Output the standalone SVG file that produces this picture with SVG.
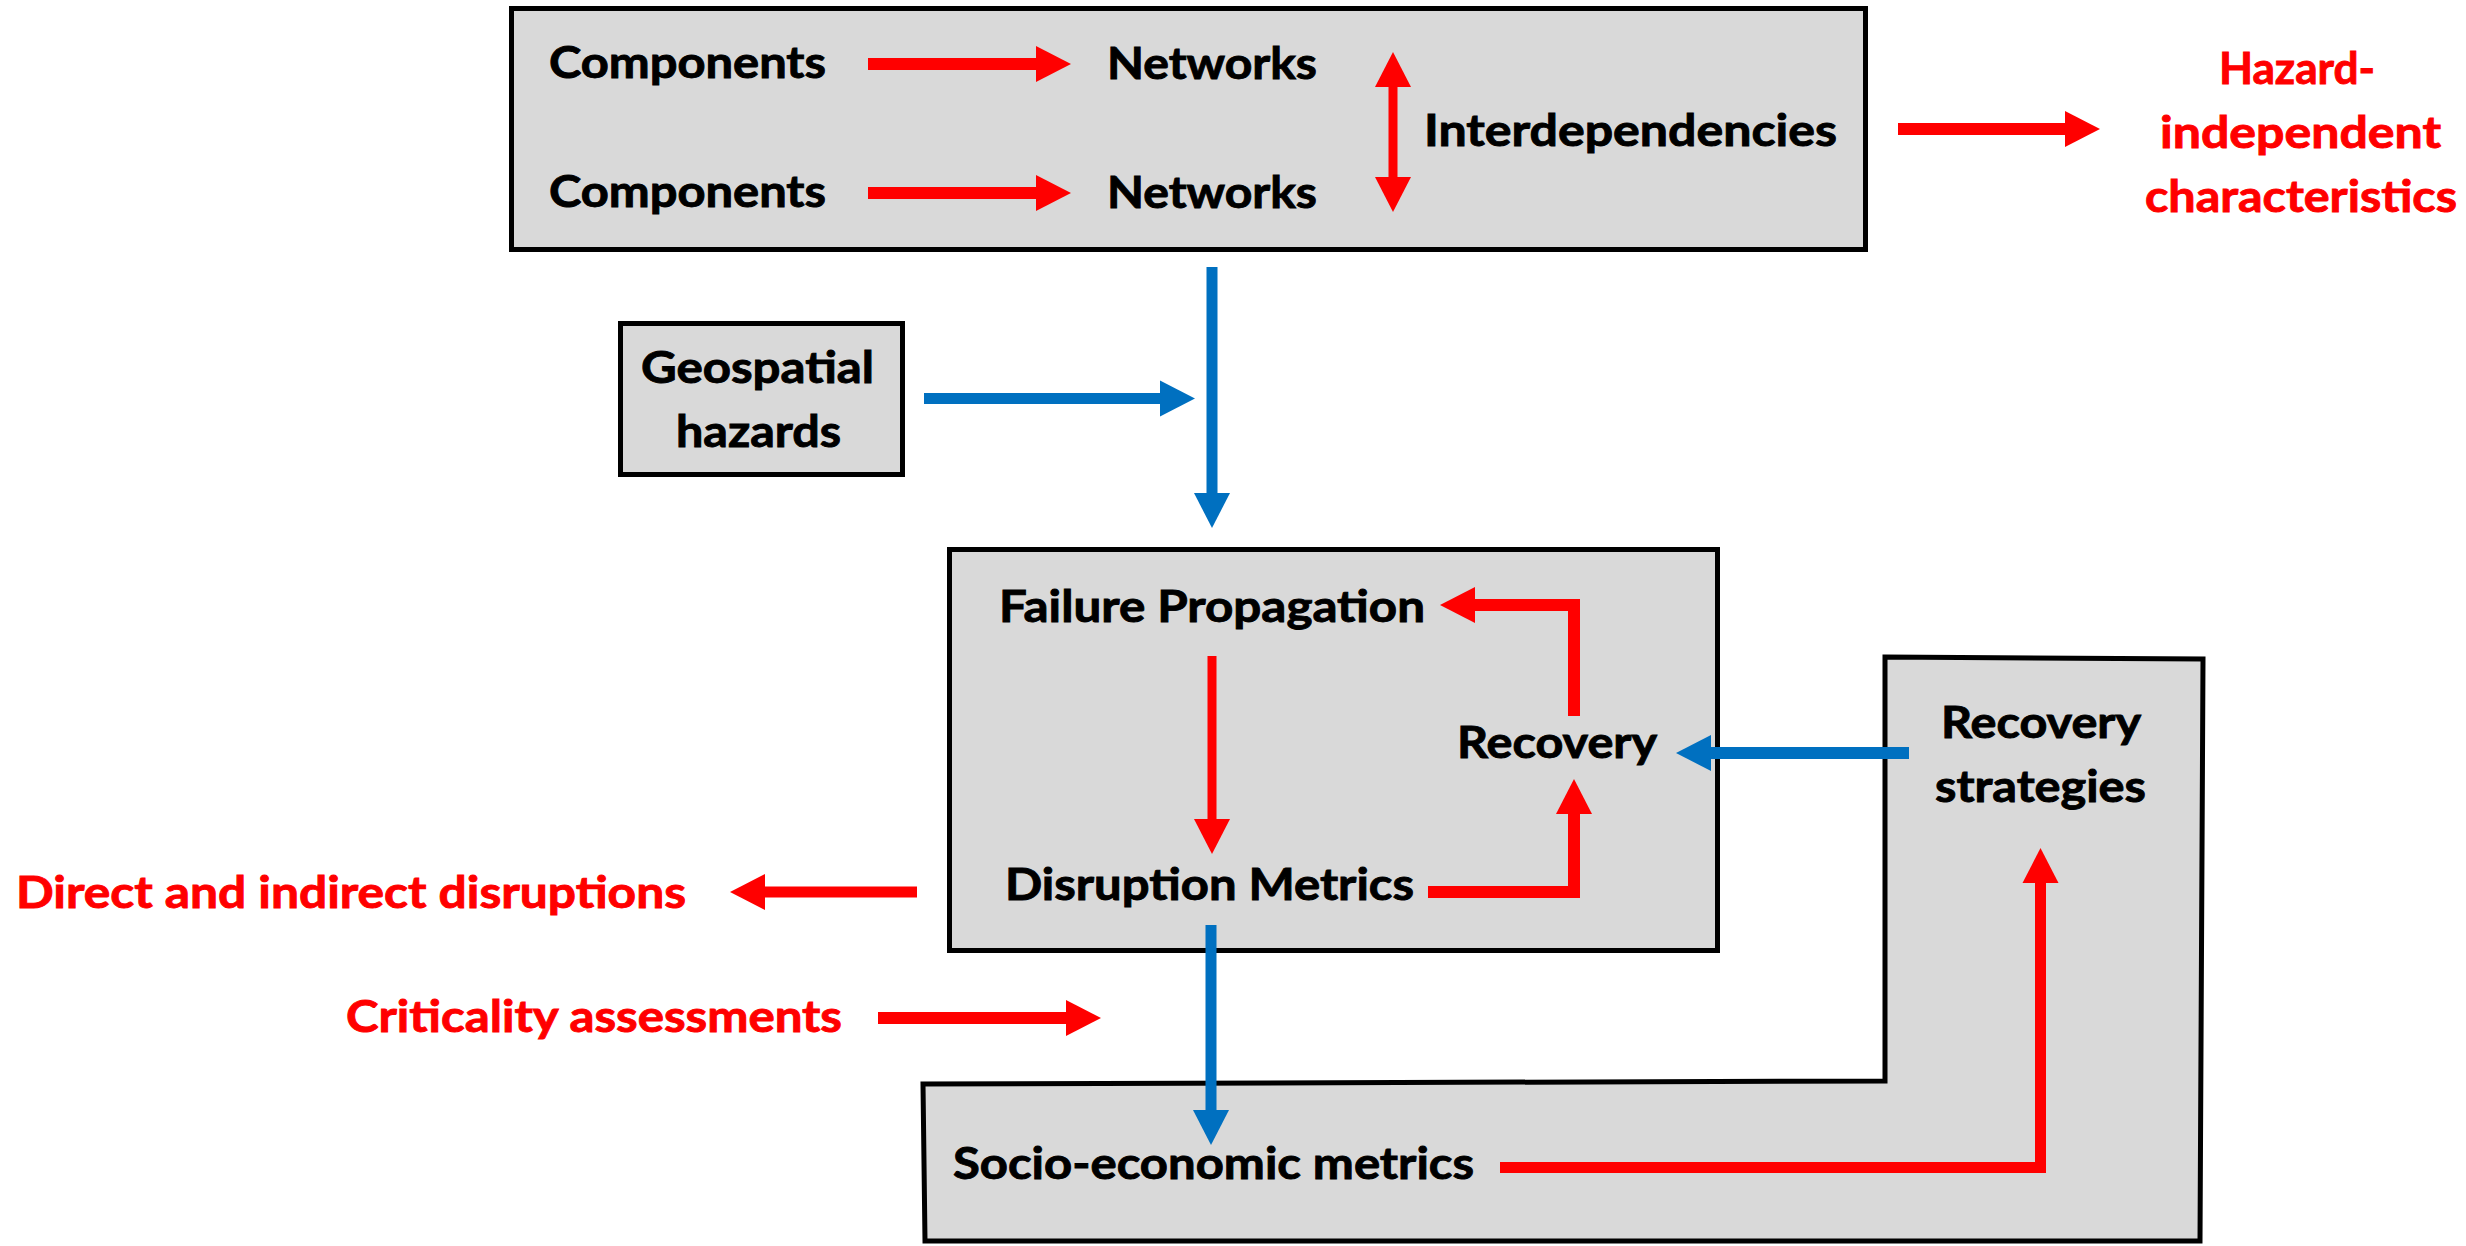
<svg xmlns="http://www.w3.org/2000/svg" width="2466" height="1246" viewBox="0 0 2466 1246">
<style>
.box{fill:#d9d9d9;stroke:#000;stroke-width:5;stroke-linejoin:miter}
.t{font-family:Lato,"Open Sans","Liberation Sans",Arial,sans-serif;font-weight:bold;font-size:44px;fill:#000;stroke:#000;stroke-width:0.9px}
.r{fill:#ff0000;stroke:#ff0000}
.red{stroke:#ff0000;fill:none;stroke-linejoin:miter;stroke-linecap:butt}
.blue{stroke:#0070c0;fill:none;stroke-linecap:butt}
</style>
<defs>
<marker id="rh" markerUnits="userSpaceOnUse" markerWidth="36" markerHeight="36" refX="0" refY="18" orient="auto-start-reverse" overflow="visible">
<path d="M0,0 L35,18 L0,36 Z" fill="#ff0000"/>
</marker>
<marker id="bh" markerUnits="userSpaceOnUse" markerWidth="36" markerHeight="36" refX="0" refY="18" orient="auto" overflow="visible">
<path d="M0,0 L35,18 L0,36 Z" fill="#0070c0"/>
</marker>
</defs>
<rect width="2466" height="1246" fill="#fff"/>

<g id="top-box">
<rect class="box" x="511.5" y="8.5" width="1354" height="241"/>
<text class="t" x="549" y="78" textLength="277" lengthAdjust="spacingAndGlyphs">Components</text>
<text class="t" x="1107" y="79" textLength="210" lengthAdjust="spacingAndGlyphs">Networks</text>
<text class="t" x="549" y="207" textLength="277" lengthAdjust="spacingAndGlyphs">Components</text>
<text class="t" x="1107" y="208" textLength="210" lengthAdjust="spacingAndGlyphs">Networks</text>
<text class="t" x="1424" y="146" textLength="413" lengthAdjust="spacingAndGlyphs">Interdependencies</text>
</g>

<g id="hazard-independent">
<text class="t r" x="2219" y="84" textLength="156" lengthAdjust="spacingAndGlyphs">Hazard-</text>
<text class="t r" x="2160" y="148" textLength="281" lengthAdjust="spacingAndGlyphs">independent</text>
<text class="t r" x="2145" y="212" textLength="312" lengthAdjust="spacingAndGlyphs">characteristics</text>
</g>

<g id="geospatial-hazards">
<rect class="box" x="620.5" y="323.5" width="282" height="151"/>
<text class="t" x="641" y="383" textLength="233" lengthAdjust="spacingAndGlyphs">Geospatial</text>
<text class="t" x="676" y="447" textLength="165" lengthAdjust="spacingAndGlyphs">hazards</text>
</g>

<g id="socio-recovery-box">
<polygon class="box" points="1885,657 2203,659 2200,1241 925,1241 923,1084 1885,1081"/>
<text class="t" x="953" y="1179" textLength="521" lengthAdjust="spacingAndGlyphs">Socio-economic metrics</text>
<text class="t" x="1941" y="738" textLength="200" lengthAdjust="spacingAndGlyphs">Recovery</text>
<text class="t" x="1935" y="802" textLength="211" lengthAdjust="spacingAndGlyphs">strategies</text>
</g>

<g id="middle-box">
<rect class="box" x="949.5" y="549.5" width="768" height="401"/>
<text class="t" x="999" y="622" textLength="426" lengthAdjust="spacingAndGlyphs">Failure Propagation</text>
<text class="t" x="1005" y="900" textLength="409" lengthAdjust="spacingAndGlyphs">Disruption Metrics</text>
<text class="t" x="1457" y="758" textLength="200" lengthAdjust="spacingAndGlyphs">Recovery</text>
</g>

<g id="direct-indirect">
<text class="t r" x="16" y="908" textLength="670" lengthAdjust="spacingAndGlyphs">Direct and indirect disruptions</text>
</g>
<g id="criticality">
<text class="t r" x="346" y="1032" textLength="496" lengthAdjust="spacingAndGlyphs">Criticality assessments</text>
</g>

<g id="connectors">
<line class="red" x1="868" y1="64" x2="1036" y2="64" stroke-width="12" marker-end="url(#rh)"/>
<line class="red" x1="868" y1="193" x2="1036" y2="193" stroke-width="12" marker-end="url(#rh)"/>
<line class="red" x1="1393" y1="87" x2="1393" y2="177" stroke-width="9" marker-start="url(#rh)" marker-end="url(#rh)"/>
<line class="red" x1="1898" y1="129" x2="2065" y2="129" stroke-width="12" marker-end="url(#rh)"/>
<line class="blue" x1="924" y1="398.5" x2="1160" y2="398.5" stroke-width="11" marker-end="url(#bh)"/>
<line class="blue" x1="1212" y1="267" x2="1212" y2="493" stroke-width="11" marker-end="url(#bh)"/>
<line class="red" x1="1212" y1="656" x2="1212" y2="819" stroke-width="9" marker-end="url(#rh)"/>
<polyline class="red" points="1574,716 1574,605 1475,605" stroke-width="12" marker-end="url(#rh)"/>
<polyline class="red" points="1428,892 1574,892 1574,814" stroke-width="12" marker-end="url(#rh)"/>
<line class="blue" x1="1909" y1="753" x2="1711" y2="753" stroke-width="12" marker-end="url(#bh)"/>
<line class="blue" x1="1211" y1="925" x2="1211" y2="1110" stroke-width="11" marker-end="url(#bh)"/>
<line class="red" x1="917" y1="892" x2="765" y2="892" stroke-width="11" marker-end="url(#rh)"/>
<line class="red" x1="878" y1="1018" x2="1066" y2="1018" stroke-width="12" marker-end="url(#rh)"/>
<polyline class="red" points="1500,1167.5 2040.5,1167.5 2040.5,883" stroke-width="11" marker-end="url(#rh)"/>
</g>
</svg>
